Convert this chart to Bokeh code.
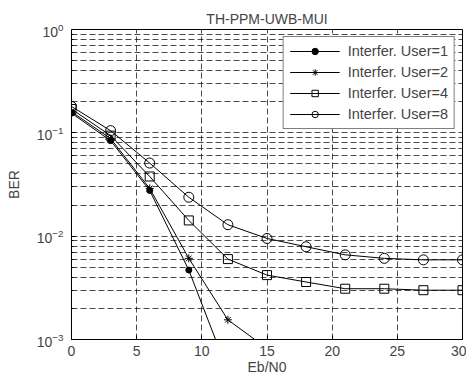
from bokeh.plotting import figure
from bokeh.models import Range1d, FixedTicker, Legend, LegendItem
from bokeh.embed import file_html
from bokeh.resources import INLINE

# data
x_u1 = [0, 3, 6, 9, 12]
ber_u1 = [0.155, 0.084, 0.0277, 0.0047, 0.00049]
x_u2 = [0, 3, 6, 9, 12, 15]
ber_u2 = [0.16, 0.088, 0.029, 0.0061, 0.00155, 0.00082]
x_all = [0, 3, 6, 9, 12, 15, 18, 21, 24, 27, 30]
ber_u4 = [0.17, 0.094, 0.0378, 0.0142, 0.0060, 0.0042, 0.0036, 0.0031, 0.0031, 0.0030, 0.0030]
ber_u8 = [0.18, 0.105, 0.051, 0.0238, 0.0129, 0.0095, 0.0079, 0.0066, 0.0061, 0.0059, 0.0059]
labels = ["Interfer. User=1", "Interfer. User=2", "Interfer. User=4", "Interfer. User=8"]
x_ticks = [0, 5, 10, 15, 20, 25, 30]
y_ticks = [1e-3, 1e-2, 1e-1, 1e0]

FONT = "Liberation Sans"

p = figure(frame_width=391, frame_height=310, y_axis_type="log",
           x_range=Range1d(0, 30), y_range=Range1d(1e-3, 1),
           output_backend="svg", toolbar_location=None,
           title="TH-PPM-UWB-MUI",
           min_border_left=71, min_border_right=4, min_border_top=29, min_border_bottom=37,
           background_fill_color="white", border_fill_color="white")

p.title.align = "center"
p.title.text_font = FONT
p.title.text_font_size = "14px"
p.title.text_font_style = "normal"
p.title.offset = 0
p.title.standoff = 6

p.outline_line_color = "black"
p.outline_line_width = 1
p.outline_line_alpha = 1

minor = [k * 10.0 ** e for e in (-3, -2, -1) for k in range(2, 10)]
p.yaxis.ticker = FixedTicker(ticks=y_ticks, minor_ticks=minor)
p.xaxis.ticker = FixedTicker(ticks=x_ticks)

for ax in (p.xaxis, p.yaxis):
    ax.major_label_text_font = FONT
    ax.major_label_text_font_size = "14px"
    ax.axis_label_text_font = FONT
    ax.axis_label_text_font_size = "14px"
    ax.axis_label_text_font_style = "normal"
    ax.major_tick_in = 4
    ax.major_tick_out = 0
    ax.minor_tick_in = 2
    ax.minor_tick_out = 0
    ax.axis_line_color = "black"
    ax.major_tick_line_color = "black"
    ax.minor_tick_line_color = "black"

p.xaxis.axis_label = "Eb/N0"
p.yaxis.axis_label = "BER"
p.xaxis.major_label_standoff = 6
p.xaxis.axis_label_standoff = 0
p.yaxis.major_label_standoff = 8
p.yaxis.axis_label_standoff = 12

for g in (p.xgrid, p.ygrid):
    g.grid_line_color = "black"
    g.grid_line_alpha = 0.7
    g.grid_line_dash = "6 3"
    g.grid_line_width = 1
p.ygrid.minor_grid_line_color = "black"
p.ygrid.minor_grid_line_alpha = 0.7
p.ygrid.minor_grid_line_dash = "6 3"

items = []
l1 = p.line(x_u1, ber_u1, color="black", line_width=1)
m1 = p.scatter(x_u1, ber_u1, marker="circle", size=6, color="black")
items.append(LegendItem(label=labels[0], renderers=[l1, m1]))

l2 = p.line(x_u2, ber_u2, color="black", line_width=1)
m2 = p.scatter(x_u2, ber_u2, marker="asterisk", size=8, line_color="black")
items.append(LegendItem(label=labels[1], renderers=[l2, m2]))

l4 = p.line(x_all, ber_u4, color="black", line_width=1)
m4 = p.scatter(x_all, ber_u4, marker="square", size=9, line_color="black", fill_alpha=0)
items.append(LegendItem(label=labels[2], renderers=[l4, m4]))

l8 = p.line(x_all, ber_u8, color="black", line_width=1)
m8 = p.scatter(x_all, ber_u8, marker="circle", size=10, line_color="black", fill_alpha=0)
items.append(LegendItem(label=labels[3], renderers=[l8, m8]))

legend = Legend(items=items, location="top_right")
legend.margin = 7
legend.padding = 6
legend.spacing = 5
legend.glyph_width = 50
legend.glyph_height = 16
legend.label_height = 16
legend.label_standoff = 8
legend.label_text_font = FONT
legend.label_text_font_size = "14.5px"
legend.border_line_color = "black"
legend.border_line_width = 1
legend.background_fill_color = "white"
legend.background_fill_alpha = 1
p.add_layout(legend, "center")

open("out.html", "w").write(file_html(p, INLINE))
